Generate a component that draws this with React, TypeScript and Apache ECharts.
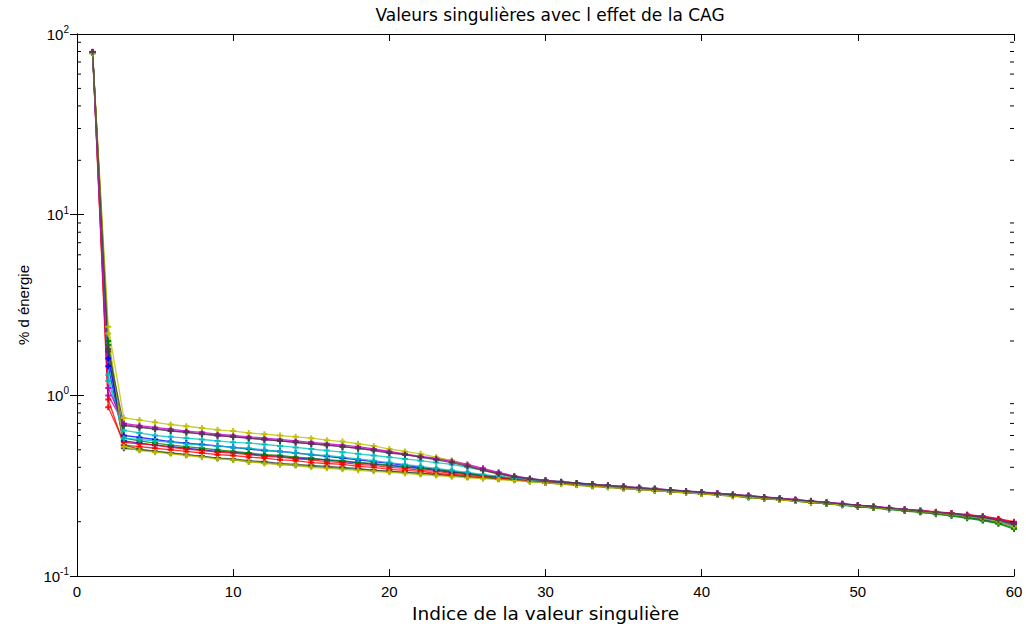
import React, { useEffect, useRef } from "react";
import * as echarts from "echarts";

const TITLE = "Valeurs singulières avec l effet de la CAG";
const X_NAME = "Indice de la valeur singulière";
const Y_NAME = "% d énergie";
const X_TICKS = [0, 10, 20, 30, 40, 50, 60];
const Y_MINOR = [0.2, 0.3, 0.4, 0.5, 0.6, 0.7, 0.8, 0.9, 2, 3, 4, 5, 6, 7, 8, 9, 20, 30, 40, 50, 60, 70, 80, 90];

const COLORS = ["#0000ff", "#008000", "#ff0000", "#00bfbf", "#bf00bf", "#bfbf00", "#404040",
  "#0000ff", "#008000", "#ff0000", "#00bfbf", "#bf00bf", "#bfbf00", "#404040"];

const S1 = [79.2, 1.45,
  0.56, 0.545, 0.53, 0.52, 0.51, 0.50, 0.49, 0.485, 0.475, 0.465, 0.46, 0.45, 0.445, 0.44, 0.43, 0.425, 0.415, 0.41, 0.40, 0.395, 0.385, 0.375, 0.37, 0.36, 0.355,
  0.348, 0.340, 0.334, 0.329, 0.324, 0.318, 0.314, 0.309, 0.304, 0.300, 0.296, 0.291, 0.287, 0.283, 0.279, 0.274, 0.270, 0.265, 0.261, 0.257, 0.252, 0.248, 0.243, 0.239, 0.235, 0.231, 0.226, 0.222, 0.219, 0.214, 0.209, 0.203, 0.194];
const S2 = [78.8, 1.90,
  0.53, 0.505, 0.49, 0.48, 0.47, 0.46, 0.45, 0.44, 0.43, 0.425, 0.415, 0.41, 0.405, 0.40, 0.395, 0.39, 0.385, 0.38, 0.375, 0.37, 0.365, 0.36, 0.355, 0.35, 0.345,
  0.340, 0.334, 0.328, 0.323, 0.319, 0.314, 0.310, 0.305, 0.301, 0.297, 0.293, 0.289, 0.285, 0.281, 0.277, 0.272, 0.268, 0.264, 0.260, 0.255, 0.251, 0.247, 0.242, 0.238, 0.234, 0.229, 0.225, 0.220, 0.215, 0.209, 0.203, 0.195, 0.182];
const S3 = [79.5, 0.86,
  0.55, 0.54, 0.53, 0.515, 0.505, 0.495, 0.485, 0.48, 0.47, 0.46, 0.455, 0.445, 0.44, 0.43, 0.425, 0.415, 0.41, 0.40, 0.395, 0.385, 0.38, 0.37, 0.365, 0.36, 0.352,
  0.346, 0.339, 0.333, 0.328, 0.323, 0.318, 0.313, 0.308, 0.304, 0.300, 0.296, 0.292, 0.288, 0.284, 0.280, 0.276, 0.271, 0.267, 0.263, 0.259, 0.254, 0.250, 0.246, 0.242, 0.238, 0.234, 0.230, 0.226, 0.222, 0.218, 0.213, 0.206, 0.198];
const S4 = [78.2, 1.20,
  0.64, 0.62, 0.60, 0.59, 0.58, 0.57, 0.56, 0.55, 0.545, 0.535, 0.525, 0.515, 0.505, 0.495, 0.485, 0.475, 0.465, 0.455, 0.445, 0.435, 0.425, 0.415, 0.40, 0.385, 0.37,
  0.356, 0.346, 0.339, 0.333, 0.328, 0.323, 0.318, 0.313, 0.308, 0.304, 0.299, 0.295, 0.291, 0.287, 0.282, 0.278, 0.273, 0.269, 0.264, 0.260, 0.255, 0.251, 0.246, 0.242, 0.237, 0.233, 0.229, 0.225, 0.221, 0.216, 0.210, 0.203, 0.193];
const S5 = [79.8, 1.00,
  0.70, 0.68, 0.665, 0.65, 0.635, 0.625, 0.61, 0.60, 0.59, 0.58, 0.57, 0.56, 0.55, 0.54, 0.53, 0.52, 0.505, 0.49, 0.475, 0.46, 0.45, 0.435, 0.415, 0.395, 0.375,
  0.358, 0.347, 0.339, 0.333, 0.328, 0.323, 0.318, 0.314, 0.309, 0.305, 0.300, 0.296, 0.292, 0.288, 0.283, 0.279, 0.274, 0.270, 0.265, 0.261, 0.256, 0.252, 0.247, 0.243, 0.239, 0.234, 0.230, 0.226, 0.222, 0.218, 0.213, 0.207, 0.197];
const S6 = [78.5, 2.40,
  0.75, 0.73, 0.71, 0.69, 0.675, 0.66, 0.645, 0.635, 0.62, 0.61, 0.60, 0.59, 0.58, 0.565, 0.555, 0.54, 0.525, 0.505, 0.49, 0.475, 0.455, 0.435, 0.41, 0.385, 0.365,
  0.352, 0.344, 0.337, 0.332, 0.327, 0.321, 0.316, 0.312, 0.307, 0.303, 0.298, 0.294, 0.290, 0.286, 0.281, 0.277, 0.272, 0.267, 0.263, 0.258, 0.254, 0.249, 0.244, 0.240, 0.236, 0.231, 0.227, 0.222, 0.218, 0.213, 0.207, 0.200, 0.190];
const S7 = [78.6, 1.75,
  0.51, 0.50, 0.49, 0.48, 0.47, 0.46, 0.45, 0.445, 0.435, 0.43, 0.42, 0.415, 0.41, 0.405, 0.40, 0.395, 0.385, 0.38, 0.375, 0.37, 0.365, 0.36, 0.355, 0.35, 0.345,
  0.341, 0.335, 0.330, 0.325, 0.320, 0.316, 0.311, 0.307, 0.302, 0.298, 0.294, 0.290, 0.286, 0.282, 0.278, 0.274, 0.270, 0.265, 0.261, 0.257, 0.252, 0.248, 0.244, 0.240, 0.236, 0.232, 0.228, 0.223, 0.219, 0.214, 0.208, 0.201, 0.191];
const S8 = [79.0, 1.60,
  0.60, 0.585, 0.57, 0.555, 0.545, 0.535, 0.525, 0.515, 0.505, 0.495, 0.49, 0.48, 0.47, 0.46, 0.45, 0.44, 0.43, 0.42, 0.41, 0.40, 0.39, 0.38, 0.37, 0.36, 0.352,
  0.345, 0.338, 0.332, 0.327, 0.322, 0.317, 0.312, 0.308, 0.303, 0.299, 0.295, 0.291, 0.287, 0.283, 0.279, 0.275, 0.270, 0.266, 0.262, 0.258, 0.253, 0.249, 0.245, 0.241, 0.237, 0.232, 0.228, 0.224, 0.219, 0.213, 0.206, 0.199, 0.189];
const S9 = [78.4, 2.00,
  0.58, 0.56, 0.545, 0.53, 0.52, 0.51, 0.50, 0.49, 0.48, 0.47, 0.465, 0.455, 0.45, 0.44, 0.435, 0.425, 0.42, 0.41, 0.405, 0.395, 0.39, 0.38, 0.37, 0.36, 0.35,
  0.344, 0.337, 0.331, 0.326, 0.321, 0.316, 0.312, 0.307, 0.303, 0.299, 0.294, 0.290, 0.286, 0.282, 0.278, 0.273, 0.269, 0.265, 0.260, 0.256, 0.252, 0.247, 0.243, 0.239, 0.235, 0.231, 0.227, 0.222, 0.217, 0.211, 0.204, 0.196, 0.185];
const S10 = [79.4, 0.95,
  0.53, 0.52, 0.51, 0.50, 0.49, 0.48, 0.47, 0.465, 0.455, 0.45, 0.44, 0.435, 0.425, 0.42, 0.415, 0.405, 0.40, 0.39, 0.385, 0.38, 0.37, 0.365, 0.36, 0.355, 0.348,
  0.343, 0.337, 0.331, 0.326, 0.321, 0.317, 0.312, 0.308, 0.303, 0.299, 0.295, 0.291, 0.287, 0.283, 0.279, 0.275, 0.271, 0.266, 0.262, 0.258, 0.254, 0.250, 0.246, 0.242, 0.238, 0.234, 0.230, 0.227, 0.223, 0.219, 0.215, 0.208, 0.200];
const S11 = [78.9, 1.30,
  0.58, 0.57, 0.56, 0.55, 0.54, 0.53, 0.525, 0.515, 0.51, 0.50, 0.49, 0.48, 0.47, 0.465, 0.455, 0.445, 0.435, 0.425, 0.415, 0.405, 0.395, 0.385, 0.375, 0.365, 0.356,
  0.349, 0.341, 0.335, 0.330, 0.325, 0.320, 0.315, 0.310, 0.306, 0.301, 0.297, 0.293, 0.289, 0.285, 0.281, 0.276, 0.272, 0.267, 0.263, 0.259, 0.254, 0.250, 0.245, 0.241, 0.237, 0.233, 0.229, 0.224, 0.220, 0.215, 0.210, 0.202, 0.192];
const S12 = [79.1, 1.10,
  0.69, 0.67, 0.655, 0.64, 0.625, 0.615, 0.60, 0.59, 0.58, 0.57, 0.56, 0.55, 0.54, 0.53, 0.52, 0.51, 0.50, 0.485, 0.47, 0.455, 0.445, 0.43, 0.41, 0.39, 0.37,
  0.355, 0.345, 0.338, 0.332, 0.327, 0.322, 0.317, 0.313, 0.308, 0.304, 0.300, 0.295, 0.291, 0.287, 0.283, 0.278, 0.274, 0.269, 0.265, 0.260, 0.256, 0.251, 0.247, 0.242, 0.238, 0.234, 0.230, 0.226, 0.222, 0.217, 0.212, 0.205, 0.196];
const S13 = [78.0, 2.20,
  0.52, 0.495, 0.485, 0.475, 0.465, 0.455, 0.445, 0.44, 0.43, 0.42, 0.415, 0.41, 0.40, 0.395, 0.39, 0.385, 0.38, 0.375, 0.37, 0.365, 0.36, 0.355, 0.35, 0.346, 0.342,
  0.338, 0.333, 0.328, 0.323, 0.318, 0.314, 0.310, 0.305, 0.301, 0.297, 0.293, 0.289, 0.285, 0.281, 0.277, 0.273, 0.269, 0.264, 0.260, 0.256, 0.252, 0.248, 0.244, 0.240, 0.236, 0.232, 0.228, 0.224, 0.219, 0.214, 0.208, 0.200, 0.188];
const S14 = [79.6, 1.80,
  0.68, 0.665, 0.65, 0.635, 0.625, 0.61, 0.60, 0.59, 0.58, 0.57, 0.56, 0.55, 0.54, 0.53, 0.52, 0.51, 0.495, 0.48, 0.47, 0.455, 0.44, 0.425, 0.405, 0.385, 0.368,
  0.354, 0.345, 0.338, 0.332, 0.327, 0.322, 0.317, 0.312, 0.308, 0.303, 0.299, 0.295, 0.291, 0.286, 0.282, 0.278, 0.273, 0.269, 0.264, 0.260, 0.255, 0.251, 0.246, 0.242, 0.238, 0.233, 0.229, 0.225, 0.221, 0.216, 0.211, 0.204, 0.194];

const SERIES = [S1, S2, S3, S4, S5, S6, S7, S8, S9, S10, S11, S12, S13, S14];

const FONT = "Liberation Sans, Arial, sans-serif";
const WIDE = "DejaVu Sans, Verdana, sans-serif";
const PLUS = "path://M2,0L4,0L4,2L6,2L6,4L4,4L4,6L2,6L2,4L0,4L0,2L2,2Z";

export default function App() {
  const ref = useRef<HTMLDivElement>(null);
  useEffect(() => {
    if (!ref.current) return;
    const chart = echarts.init(ref.current, null, { renderer: "svg" });
    const axisLine = { show: true, lineStyle: { color: "#000", width: 1 } };
    const supFmt = (v: number) => {
      const e = Math.round(Math.log10(v));
      return "{b|10}{s|" + e + "}";
    };
    const rich = {
      b: { fontSize: 15, fontFamily: FONT, color: "#000" },
      s: { fontSize: 10, fontFamily: FONT, color: "#000", padding: [0, 0, 9, 0] },
    };
    const lineSeries = SERIES.map((arr, k) => ({
      type: "line",
      data: arr.map((v, i) => [i + 1, v]),
      symbol: PLUS,
      symbolSize: 6,
      showSymbol: true,
      lineStyle: { width: 1.3, color: COLORS[k], opacity: 0.8 },
      itemStyle: { color: COLORS[k], opacity: 0.9 },
      emphasis: { disabled: true },
      xAxisIndex: 0,
      yAxisIndex: 0,
    }));
    const minorSeries = {
      type: "custom",
      xAxisIndex: 0,
      yAxisIndex: 0,
      silent: true,
      clip: false,
      z: 10,
      data: Y_MINOR.map((v) => [X_TICKS[0], v]),
      renderItem: (params: any, api: any) => {
        const v = api.value(1);
        const p = api.coord([X_TICKS[0], v]);
        const cs = params.coordSys;
        const lx = cs.x;
        const rx = cs.x + cs.width;
        return {
          type: "group",
          children: [
            { type: "line", shape: { x1: lx, y1: p[1], x2: lx + 4, y2: p[1] }, style: { stroke: "#000", lineWidth: 1 } },
            { type: "line", shape: { x1: rx - 4, y1: p[1], x2: rx, y2: p[1] }, style: { stroke: "#000", lineWidth: 1 } },
          ],
        };
      },
    };
    chart.setOption({
      animation: false,
      backgroundColor: "#fff",
      title: {
        text: TITLE,
        left: 545,
        top: 1,
        textAlign: "center",
        textStyle: { fontSize: 17, fontWeight: "normal", fontFamily: WIDE, color: "#000" },
      },
      grid: { left: 77, right: 12, top: 34, bottom: 45, containLabel: false },
      xAxis: [
        {
          type: "value",
          min: X_TICKS[0],
          max: X_TICKS[X_TICKS.length - 1],
          interval: 10,
          position: "bottom",
          axisLine,
          axisTick: { show: true, inside: true, length: 7, lineStyle: { color: "#000" } },
          axisLabel: { fontSize: 15, fontFamily: FONT, color: "#000", margin: 8 },
          splitLine: { show: false },
          name: X_NAME,
          nameLocation: "middle",
          nameGap: 26,
          nameTextStyle: { fontSize: 18.5, fontFamily: WIDE, color: "#000" },
        },
        {
          type: "value",
          min: X_TICKS[0],
          max: X_TICKS[X_TICKS.length - 1],
          interval: 10,
          position: "top",
          axisLine,
          axisTick: { show: true, inside: true, length: 7, lineStyle: { color: "#000" } },
          axisLabel: { show: false },
          splitLine: { show: false },
        },
      ],
      yAxis: [
        {
          type: "log",
          logBase: 10,
          min: 0.1,
          max: 100,
          position: "left",
          axisLine,
          axisTick: { show: true, inside: true, length: 7, lineStyle: { color: "#000" } },
          axisLabel: { formatter: supFmt, rich, margin: 8 },
          splitLine: { show: false },
          name: Y_NAME,
          nameLocation: "middle",
          nameGap: 46,
          nameRotate: 90,
          nameTextStyle: { fontSize: 15, fontFamily: FONT, color: "#000" },
        },
        {
          type: "log",
          logBase: 10,
          min: 0.1,
          max: 100,
          position: "right",
          axisLine,
          axisTick: { show: true, inside: true, length: 7, lineStyle: { color: "#000" } },
          axisLabel: { show: false },
          splitLine: { show: false },
        },
      ],
      series: [...lineSeries, minorSeries],
    });
    return () => chart.dispose();
  }, []);
  return (
    <div
      ref={ref}
      style={{ position: "fixed", left: 0, top: 0, width: 1026, height: 628, background: "#fff" }}
    />
  );
}
